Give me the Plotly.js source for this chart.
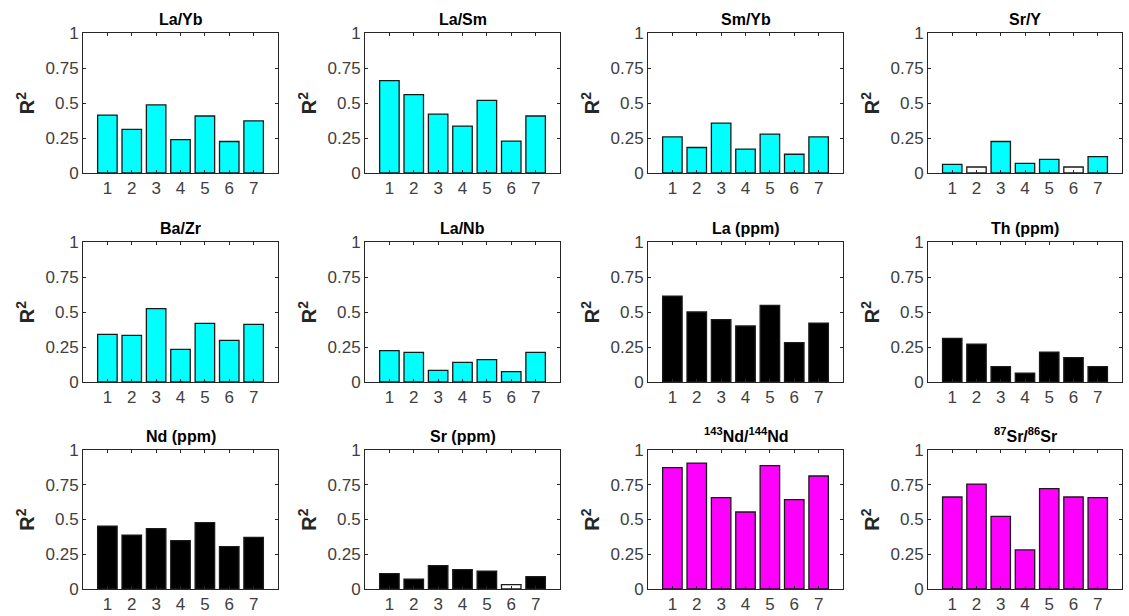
<!DOCTYPE html>
<html><head><meta charset="utf-8">
<script src="https://cdn.plot.ly/plotly-3.0.1.min.js"></script>
<style>html,body{margin:0;padding:0;background:#fff}#c{width:1129px;height:616px}</style>
</head><body><div id="c"></div>
<script>
const categories = [1, 2, 3, 4, 5, 6, 7];
const tickLabels = ['1', '2', '3', '4', '5', '6', '7'];
const yTicks = [0, 0.25, 0.5, 0.75, 1];
const yTickLabels = ['0', '0.25', '0.5', '0.75', '1'];

const titles = ['La/Yb', 'La/Sm', 'Sm/Yb', 'Sr/Y',
  'Ba/Zr', 'La/Nb', 'La (ppm)', 'Th (ppm)',
  'Nd (ppm)', 'Sr (ppm)', '<sup>143</sup>Nd/<sup>144</sup>Nd', '<sup>87</sup>Sr/<sup>86</sup>Sr'];

const LaYb   = [0.414, 0.311, 0.486, 0.239, 0.407, 0.225, 0.373];
const LaSm   = [0.660, 0.560, 0.421, 0.335, 0.519, 0.227, 0.407];
const SmYb   = [0.258, 0.182, 0.356, 0.170, 0.278, 0.134, 0.258];
const SrY    = [0.062, 0.043, 0.225, 0.069, 0.098, 0.043, 0.117];
const BaZr   = [0.340, 0.333, 0.524, 0.233, 0.419, 0.298, 0.412];
const LaNb   = [0.224, 0.212, 0.083, 0.140, 0.160, 0.074, 0.212];
const LaPpm  = [0.614, 0.500, 0.445, 0.400, 0.548, 0.281, 0.421];
const ThPpm  = [0.312, 0.271, 0.110, 0.064, 0.214, 0.174, 0.110];
const NdPpm  = [0.453, 0.388, 0.434, 0.348, 0.477, 0.305, 0.372];
const SrPpm  = [0.110, 0.070, 0.168, 0.139, 0.129, 0.031, 0.089];
const NdIso  = [0.873, 0.906, 0.657, 0.554, 0.888, 0.643, 0.813];
const SrIso  = [0.662, 0.755, 0.523, 0.281, 0.722, 0.662, 0.657];

// 1 = significant (filled), 0 = not significant (white)
const sigAll   = [1, 1, 1, 1, 1, 1, 1];
const sigSrY   = [1, 0, 1, 1, 1, 0, 1];
const sigSrPpm = [1, 1, 1, 1, 1, 0, 1];

const series = [LaYb, LaSm, SmYb, SrY, BaZr, LaNb, LaPpm, ThPpm, NdPpm, SrPpm, NdIso, SrIso];
const sigs = [sigAll, sigAll, sigAll, sigSrY, sigAll, sigAll, sigAll, sigAll, sigAll, sigSrPpm, sigAll, sigAll];
const groupColor = ['#00FFFF', '#00FFFF', '#00FFFF', '#00FFFF', '#00FFFF', '#00FFFF',
  '#000000', '#000000', '#000000', '#000000', '#FF00FF', '#FF00FF'];

const W = 1129, H = 616;
const colX = [[83, 278], [365, 560], [648, 843], [928, 1122]];
const rowY = [[33, 173], [242, 382], [450, 589]];
const FONT = 'Liberation Sans, Arial, sans-serif';

const data = [];
const layout = {
  width: W, height: H,
  margin: {l: 0, r: 0, t: 0, b: 0},
  paper_bgcolor: '#fff', plot_bgcolor: '#fff',
  showlegend: false,
  font: {family: FONT, color: '#404040', size: 17},
  annotations: []
};

for (let i = 0; i < 12; i++) {
  const r = Math.floor(i / 4), c = i % 4;
  const xa = 'x' + (i + 1), ya = 'y' + (i + 1);
  const xk = 'xaxis' + (i + 1), yk = 'yaxis' + (i + 1);
  data.push({
    type: 'bar', x: categories, y: series[i], xaxis: xa, yaxis: ya,
    width: 0.8,
    marker: {color: sigs[i].map(s => s ? groupColor[i] : '#FFFFFF'),
             line: {color: '#1a1a1a', width: 1.3}},
    hoverinfo: 'y'
  });
  const dx = [colX[c][0] / W, colX[c][1] / W];
  const dy = [1 - rowY[r][1] / H, 1 - rowY[r][0] / H];
  layout[xk] = {
    domain: dx, anchor: ya, range: [0, 8], fixedrange: true,
    tickvals: categories, ticktext: tickLabels,
    ticks: 'inside', ticklen: 3, tickcolor: '#262626', tickwidth: 1,
    showline: true, linecolor: '#262626', linewidth: 1, mirror: 'ticks',
    showgrid: false, zeroline: false,
    tickfont: {size: 17, color: '#404040'}
  };
  layout[yk] = {
    domain: dy, anchor: xa, range: [0, 1], fixedrange: true,
    tickvals: yTicks, ticktext: yTickLabels,
    ticks: 'inside', ticklen: 3, tickcolor: '#262626', tickwidth: 1,
    showline: true, linecolor: '#262626', linewidth: 1, mirror: 'ticks',
    showgrid: false, zeroline: false,
    tickfont: {size: 17, color: '#404040'},
    title: {text: 'R<sup>2</sup>', font: {size: 20, color: '#262626', family: FONT, weight: 'bold'}, standoff: 5}
  };
  layout.annotations.push({
    xref: 'paper', yref: 'paper',
    x: (dx[0] + dx[1]) / 2, y: dy[1], yshift: 3,
    xanchor: 'center', yanchor: 'bottom', showarrow: false,
    text: '<b>' + titles[i] + '</b>',
    font: {size: 16, color: '#000000'}
  });
}

Plotly.newPlot('c', data, layout, {staticPlot: true});
</script>
</body></html>
